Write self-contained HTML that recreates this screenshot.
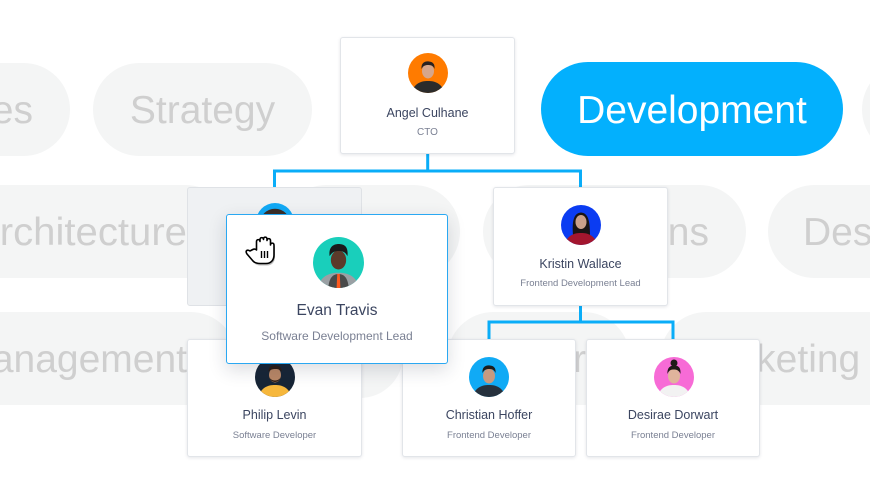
<!DOCTYPE html>
<html><head><meta charset="utf-8">
<style>
html,body{margin:0;padding:0;}
body{width:870px;height:494px;overflow:hidden;background:#fff;position:relative;font-family:"Liberation Sans",Arial,sans-serif;}
#bg{position:absolute;left:0;top:0;}
.card{position:absolute;background:#fff;border:1px solid #e2e5e9;border-radius:3px;box-shadow:0 1px 3px rgba(40,50,70,0.12);box-sizing:border-box;}
.av{position:absolute;}
.nm{position:absolute;left:0;right:0;text-align:center;color:#3b4560;font-size:12.5px;line-height:16px;white-space:nowrap;}
.sb{position:absolute;left:0;right:0;text-align:center;color:#7a8093;font-size:9.5px;line-height:12px;white-space:nowrap;}
</style></head>
<body>
<svg id="bg" width="870" height="494" viewBox="0 0 870 494">
  <g fill="#f4f5f5">
    <rect x="-150" y="63" width="220" height="93" rx="46.5"/>
    <rect x="93" y="63" width="219" height="93" rx="46.5"/>
    <rect x="862" y="63" width="240" height="93" rx="46.5"/>
    <rect x="-200" y="185" width="432" height="93" rx="46.5"/>
    <rect x="280" y="185" width="180" height="93" rx="46.5"/>
    <rect x="483" y="185" width="263" height="93" rx="46.5"/>
    <rect x="768" y="185" width="330" height="93" rx="46.5"/>
    <rect x="-200" y="312" width="437" height="93" rx="46.5"/>
    <rect x="240" y="312" width="163" height="86" rx="43"/>
    <rect x="447" y="312" width="183" height="93" rx="46.5"/>
    <rect x="660" y="312" width="440" height="93" rx="46.5"/>
  </g>
  <rect x="541" y="62" width="302" height="94" rx="47" fill="#03b0fd"/>
  <g font-family="Liberation Sans, Arial, sans-serif" font-size="39" fill="#cfcfcf">
    <text x="33" y="123" text-anchor="end">Sales</text>
    <text x="202.5" y="123" text-anchor="middle">Strategy</text>
    <text x="-27" y="245" textLength="214" lengthAdjust="spacingAndGlyphs">Architecture</text>
    <text x="709" y="245" text-anchor="end">Operations</text>
    <text x="803" y="245">Design</text>
    <text x="187" y="372" text-anchor="end">Management</text>
    <text x="586" y="372" text-anchor="end">Computer</text>
    <text x="689" y="372">Marketing</text>
  </g>
  <text x="692" y="123" text-anchor="middle" font-family="Liberation Sans, Arial, sans-serif" font-size="39" fill="#ffffff">Development</text>
  <g stroke="#0aadf8" stroke-width="3" fill="none">
    <path d="M427.7 154 V171 M274.5 171 H580.5 M274.5 169.5 V188 M580.5 169.5 V188"/>
    <path d="M580.5 306 V322 M489 322 H673 M489 320.5 V340 M673 320.5 V340"/>
  </g>
</svg>

<!-- Angel -->
<div class="card" style="left:340px;top:37px;width:175px;height:117px;">
  <svg class="av" style="left:67px;top:15px" width="40" height="40" viewBox="0 0 40 40">
    <defs><clipPath id="ca"><circle cx="20" cy="20" r="20"/></clipPath></defs>
    <g clip-path="url(#ca)"><rect width="40" height="40" fill="#ff7b00"/>
    <path d="M3 42 C5 31 12 28 20 28 C28 28 35 31 37 42 Z" fill="#2b2b2b"/>
    <ellipse cx="20" cy="18" rx="6" ry="7.5" fill="#d6a68b"/>
    <path d="M13.5 16 C13 9 18 8 21 8.5 C25 9 27 11 26.5 16 C25 12 22 12 20 12 C17 12 15 13 13.5 16Z" fill="#2a2220"/></g>
  </svg>
  <div class="nm" style="top:67px">Angel Culhane</div>
  <div class="sb" style="top:89px;font-size:10px;">CTO</div>
</div>

<!-- Ghost card -->
<div class="card" style="left:187px;top:187px;width:175px;height:119px;background:#eff1f3;border-color:#dfe2e6;box-shadow:none;">
  <svg class="av" style="left:68px;top:15px" width="38" height="38" viewBox="0 0 40 40">
    <circle cx="20" cy="20" r="20" fill="#12a9f5"/>
    <circle cx="20" cy="22" r="16" fill="#3a2e28"/>
    <ellipse cx="20" cy="24" rx="8" ry="9" fill="#6a4a38"/>
  </svg>
</div>

<!-- Kristin -->
<div class="card" style="left:493px;top:187px;width:175px;height:119px;">
  <svg class="av" style="left:67px;top:17px" width="40" height="40" viewBox="0 0 40 40">
    <defs><clipPath id="ck"><circle cx="20" cy="20" r="20"/></clipPath></defs>
    <g clip-path="url(#ck)"><rect width="40" height="40" fill="#0b3cf2"/>
    <path d="M12 30 C11 18 12 8 20 7.5 C28 8 29 18 29 32 Z" fill="#1a1414"/>
    <path d="M3 42 C5 31 12 28 20 28 C28 28 35 31 37 42 Z" fill="#a3162e"/>
    <ellipse cx="20" cy="17" rx="5.5" ry="7" fill="#caa08a"/></g>
  </svg>
  <div class="nm" style="top:68px">Kristin Wallace</div>
  <div class="sb" style="top:90px">Frontend Development Lead</div>
</div>

<!-- Philip -->
<div class="card" style="left:187px;top:339px;width:175px;height:118px;">
  <svg class="av" style="left:67px;top:17px" width="40" height="40" viewBox="0 0 40 40">
    <defs><clipPath id="cp"><circle cx="20" cy="20" r="20"/></clipPath></defs>
    <g clip-path="url(#cp)"><rect width="40" height="40" fill="#172536"/>
    <path d="M3 42 C5 31 12 28 20 28 C28 28 35 31 37 42 Z" fill="#f6b73c"/>
    <ellipse cx="20" cy="18" rx="6" ry="7.5" fill="#b98766"/>
    <path d="M14 19 C15 27 25 27 26 19 C25 25 15 25 14 19Z" fill="#2a1c14"/>
    <path d="M13.5 15 C13 9 18 8 21 8.5 C25 9 27 11 26.5 15 C25 12 22 12 20 12 C17 12 15 13 13.5 15Z" fill="#2a1c14"/></g>
  </svg>
  <div class="nm" style="top:67px">Philip Levin</div>
  <div class="sb" style="top:90px">Software Developer</div>
</div>

<!-- Christian -->
<div class="card" style="left:402px;top:339px;width:174px;height:118px;">
  <svg class="av" style="left:66px;top:17px" width="40" height="40" viewBox="0 0 40 40">
    <defs><clipPath id="cc"><circle cx="20" cy="20" r="20"/></clipPath></defs>
    <g clip-path="url(#cc)"><rect width="40" height="40" fill="#10aaf5"/>
    <path d="M3 42 C5 31 12 28 20 28 C28 28 35 31 37 42 Z" fill="#26313d"/>
    <ellipse cx="20" cy="19" rx="6" ry="7.5" fill="#c79a80"/>
    <path d="M13.5 16 C13 9 18 8 21 8.5 C25 9 27 11 26.5 16 C25 12 22 12 20 12 C17 12 15 13 13.5 16Z" fill="#1c1c1c"/></g>
  </svg>
  <div class="nm" style="top:67px">Christian Hoffer</div>
  <div class="sb" style="top:90px">Frontend Developer</div>
</div>

<!-- Desirae -->
<div class="card" style="left:586px;top:339px;width:174px;height:118px;">
  <svg class="av" style="left:67px;top:17px" width="40" height="40" viewBox="0 0 40 40">
    <defs><clipPath id="cd"><circle cx="20" cy="20" r="20"/></clipPath></defs>
    <g clip-path="url(#cd)"><rect width="40" height="40" fill="#f76bd6"/>
    <path d="M3 42 C5 31 12 28 20 28 C28 28 35 31 37 42 Z" fill="#f2f2f2"/>
    <ellipse cx="20" cy="19" rx="6" ry="7.5" fill="#e0b49c"/>
    <circle cx="20" cy="6" r="3.5" fill="#1f1a18"/>
    <path d="M13.5 17 C13 10 17 8.5 20 8.5 C24 8.5 27 10 26.5 17 C25 13 22 12.5 20 12.5 C17 12.5 15 13 13.5 17Z" fill="#1f1a18"/></g>
  </svg>
  <div class="nm" style="top:67px">Desirae Dorwart</div>
  <div class="sb" style="top:90px">Frontend Developer</div>
</div>

<!-- Evan (dragged) -->
<div class="card" style="left:226px;top:214px;width:222px;height:150px;border-color:#2aa8f2;box-shadow:0 6px 18px rgba(30,40,60,0.16);">
  <svg class="av" style="left:85.5px;top:21.5px" width="51" height="51" viewBox="0 0 40 40">
    <defs><clipPath id="ce"><circle cx="20" cy="20" r="20"/></clipPath></defs>
    <g clip-path="url(#ce)"><rect width="40" height="40" fill="#19cfbb"/>
    <path d="M3 42 C5 31 12 28 20 28 C28 28 35 31 37 42 Z" fill="#9aa0a4"/>
    <path d="M12 42 C12 33 15 29 20 29 C25 29 28 33 28 42 Z" fill="#4a4a4a"/>
    <path d="M19 29 L21 29 L21.5 40 L18.5 40 Z" fill="#ff5a1f"/>
    <ellipse cx="20" cy="18" rx="6" ry="7.5" fill="#5b3a2a"/>
    <path d="M13 15 C12 7 17 5.5 20 5.5 C24 5.5 28 7 27 15 C25 11 22 11 20 11 C17 11 15 12 13 15Z" fill="#1a1a1a"/></g>
  </svg>
  <div class="nm" style="top:86px;font-size:15.5px;line-height:20px;">Evan Travis</div>
  <div class="sb" style="top:114px;font-size:12px;line-height:15px;">Software Development Lead</div>
</div>

<!-- grab cursor -->
<svg style="position:absolute;left:243px;top:234px" width="36" height="32" viewBox="0 0 36 32">
  <path d="M7 17 C4 15 2 17 4 20 L10 27 C12 29 14 29.5 17 29.5 L23 29.5 C28 29.5 31 26 31 21 L31 11 C31 8.5 27.5 8.5 27.5 11 L27.5 6.5 C27.5 4 24 4 24 6.5 L24 5 C24 2.5 20.5 2.5 20.5 5 L20.5 5.5 C20.5 3 17 3 17 5.5 L17 7.5 C17 5 13.5 5 13.5 7.5 L13.5 16 C12 14 9.5 15.5 7 17 Z" fill="#000" opacity="0.25" transform="translate(1,2)"/>
  <path d="M7 17 C4 15 2 17 4 20 L10 27 C12 29 14 29.5 17 29.5 L23 29.5 C28 29.5 31 26 31 21 L31 11 C31 8.5 27.5 8.5 27.5 11 L27.5 6.5 C27.5 4 24 4 24 6.5 L24 5 C24 2.5 20.5 2.5 20.5 5 L20.5 5.5 C20.5 3 17 3 17 5.5 L17 7.5 C17 5 13.5 5 13.5 7.5 L13.5 16 C12 14 9.5 15.5 7 17 Z" fill="#fff" stroke="#000" stroke-width="1.6" stroke-linejoin="round"/>
  <path d="M18.5 17 V24 M21.5 17 V24 M24.5 17 V24" stroke="#000" stroke-width="1.4"/>
</svg>
</body></html>
